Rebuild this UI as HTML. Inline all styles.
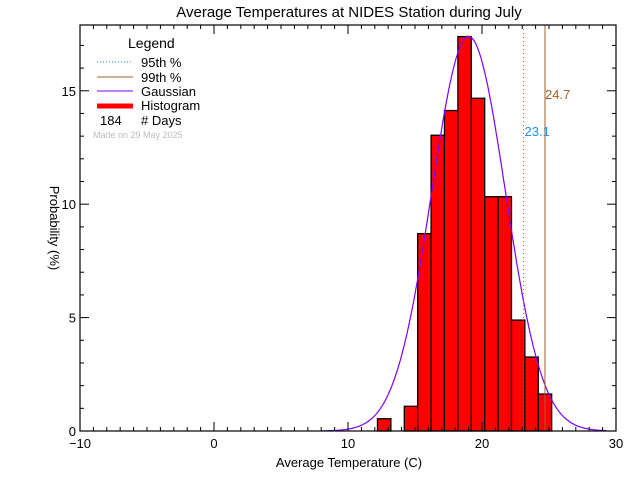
<!DOCTYPE html>
<html><head><meta charset="utf-8"><style>
html,body{margin:0;padding:0;background:#fff;}
svg text{font-family:"Liberation Sans",sans-serif;}
</style></head><body>
<svg id="chart" width="640" height="480" xmlns="http://www.w3.org/2000/svg">
<text x="349" y="17" font-size="15" text-anchor="middle">Average Temperatures at NIDES Station during July</text>
<g id="plot"></g>
<text x="349" y="467" font-size="13" text-anchor="middle">Average Temperature (C)</text>
<text transform="translate(50,228) rotate(90)" font-size="13" text-anchor="middle">Probability    (%)</text>
<g>
<text x="128" y="48" font-size="14">Legend</text>
<line x1="97" y1="62" x2="133" y2="62" stroke="#1e90ff" stroke-dasharray="1,2"/>
<text x="141" y="67" font-size="13">95th %</text>
<line x1="97" y1="77" x2="133" y2="77" stroke="#a0612a"/>
<text x="141" y="82" font-size="13">99th %</text>
<line x1="97" y1="91" x2="133" y2="91" stroke="#8000ff"/>
<text x="141" y="96" font-size="13">Gaussian</text>
<line x1="97" y1="106" x2="133" y2="106" stroke="#ff0000" stroke-width="5"/>
<text x="141" y="110" font-size="13">Histogram</text>
<text x="100" y="125" font-size="13">184</text>
<text x="141" y="125" font-size="13"># Days</text>
<text x="93" y="138" font-size="9" fill="#bbb">Made on 29 May 2025</text>
</g>
</svg>
<script>
const binStarts=[12.2,13.2,14.2,15.2,16.2,17.2,18.2,19.2,20.2,21.2,22.2,23.2,24.2];
const binValues=[0.54,0,1.09,8.70,13.04,14.13,17.39,14.67,10.33,10.33,4.89,3.26,1.63];
const xTicks=[-10,0,10,20,30];
const yTicks=[0,5,10,15];
const gaussMean=19.0, gaussSigma=2.75, gaussPeak=17.4;
const p95=23.1, p99=24.7;

const L=80,R=616,T=25,B=431,X0=-10,X1=30,Y0=0,Y1=17.9;
const sx=v=>L+(v-X0)/(X1-X0)*(R-L);
const sy=v=>B-(v-Y0)/(Y1-Y0)*(B-T);
const NS="http://www.w3.org/2000/svg";
const g=document.getElementById('plot');
function mk(t,a){const e=document.createElementNS(NS,t);for(const k in a)e.setAttribute(k,a[k]);g.appendChild(e);return e;}
// bars
binStarts.forEach((s,i)=>{
  if(binValues[i]<=0)return;
  const r=mk('rect',{x:sx(s),y:sy(binValues[i]),width:sx(s+1)-sx(s),height:B-sy(binValues[i]),fill:'#ff0000',stroke:'#000','stroke-width':1.3});
  
  
});
// gaussian
let d='';
for(let v=gaussMean-4*gaussSigma+0.1;v<=gaussMean+4*gaussSigma-0.6;v+=0.1){
  const y=gaussPeak*Math.exp(-0.5*Math.pow((v-gaussMean)/gaussSigma,2));
  d+=(d?'L':'M')+sx(v).toFixed(1)+','+sy(y).toFixed(1);
}
const gp=mk('path',{d:d,fill:'none',stroke:'#8000ff','stroke-width':1.2});


// percentile lines
const l95=mk('line',{x1:sx(p95),x2:sx(p95),y1:T,y2:B,stroke:'#a0612a','stroke-dasharray':'1,3'});


const l99=mk('line',{x1:sx(p99),x2:sx(p99),y1:T,y2:B,stroke:'#a0612a'});


const t95=mk('text',{x:sx(p95)+1,y:136,'font-size':13,fill:'#1e90ff'});t95.textContent=p95.toFixed(1);


const t99=mk('text',{x:sx(p99),y:99,'font-size':13,fill:'#a0612a'});t99.textContent=p99.toFixed(1);


// frame
const fr=mk('rect',{x:L,y:T,width:R-L,height:B-T,fill:'none',stroke:'#000','stroke-width':1.2});


// x ticks
for(let v=X0;v<=X1;v++){
  const len=(v%10===0)?9:4;
  mk('line',{x1:sx(v),x2:sx(v),y1:B,y2:B-len,stroke:'#000'});
  mk('line',{x1:sx(v),x2:sx(v),y1:T,y2:T+len,stroke:'#000'});
}
xTicks.forEach(v=>{const t=mk('text',{x:sx(v),y:B+17,'font-size':13,'text-anchor':'middle'});t.textContent=v<0?'\u2212'+(-v):v;

});
// y ticks
for(let v=0;v<=17;v++){
  const len=(v%5===0)?9:4;
  mk('line',{x1:L,x2:L+len,y1:sy(v),y2:sy(v),stroke:'#000'});
  mk('line',{x1:R,x2:R-len,y1:sy(v),y2:sy(v),stroke:'#000'});
}
yTicks.forEach(v=>{const t=mk('text',{x:L-4,y:sy(v)+5,'font-size':13,'text-anchor':'end'});t.textContent=v;

});
</script>
</body></html>
